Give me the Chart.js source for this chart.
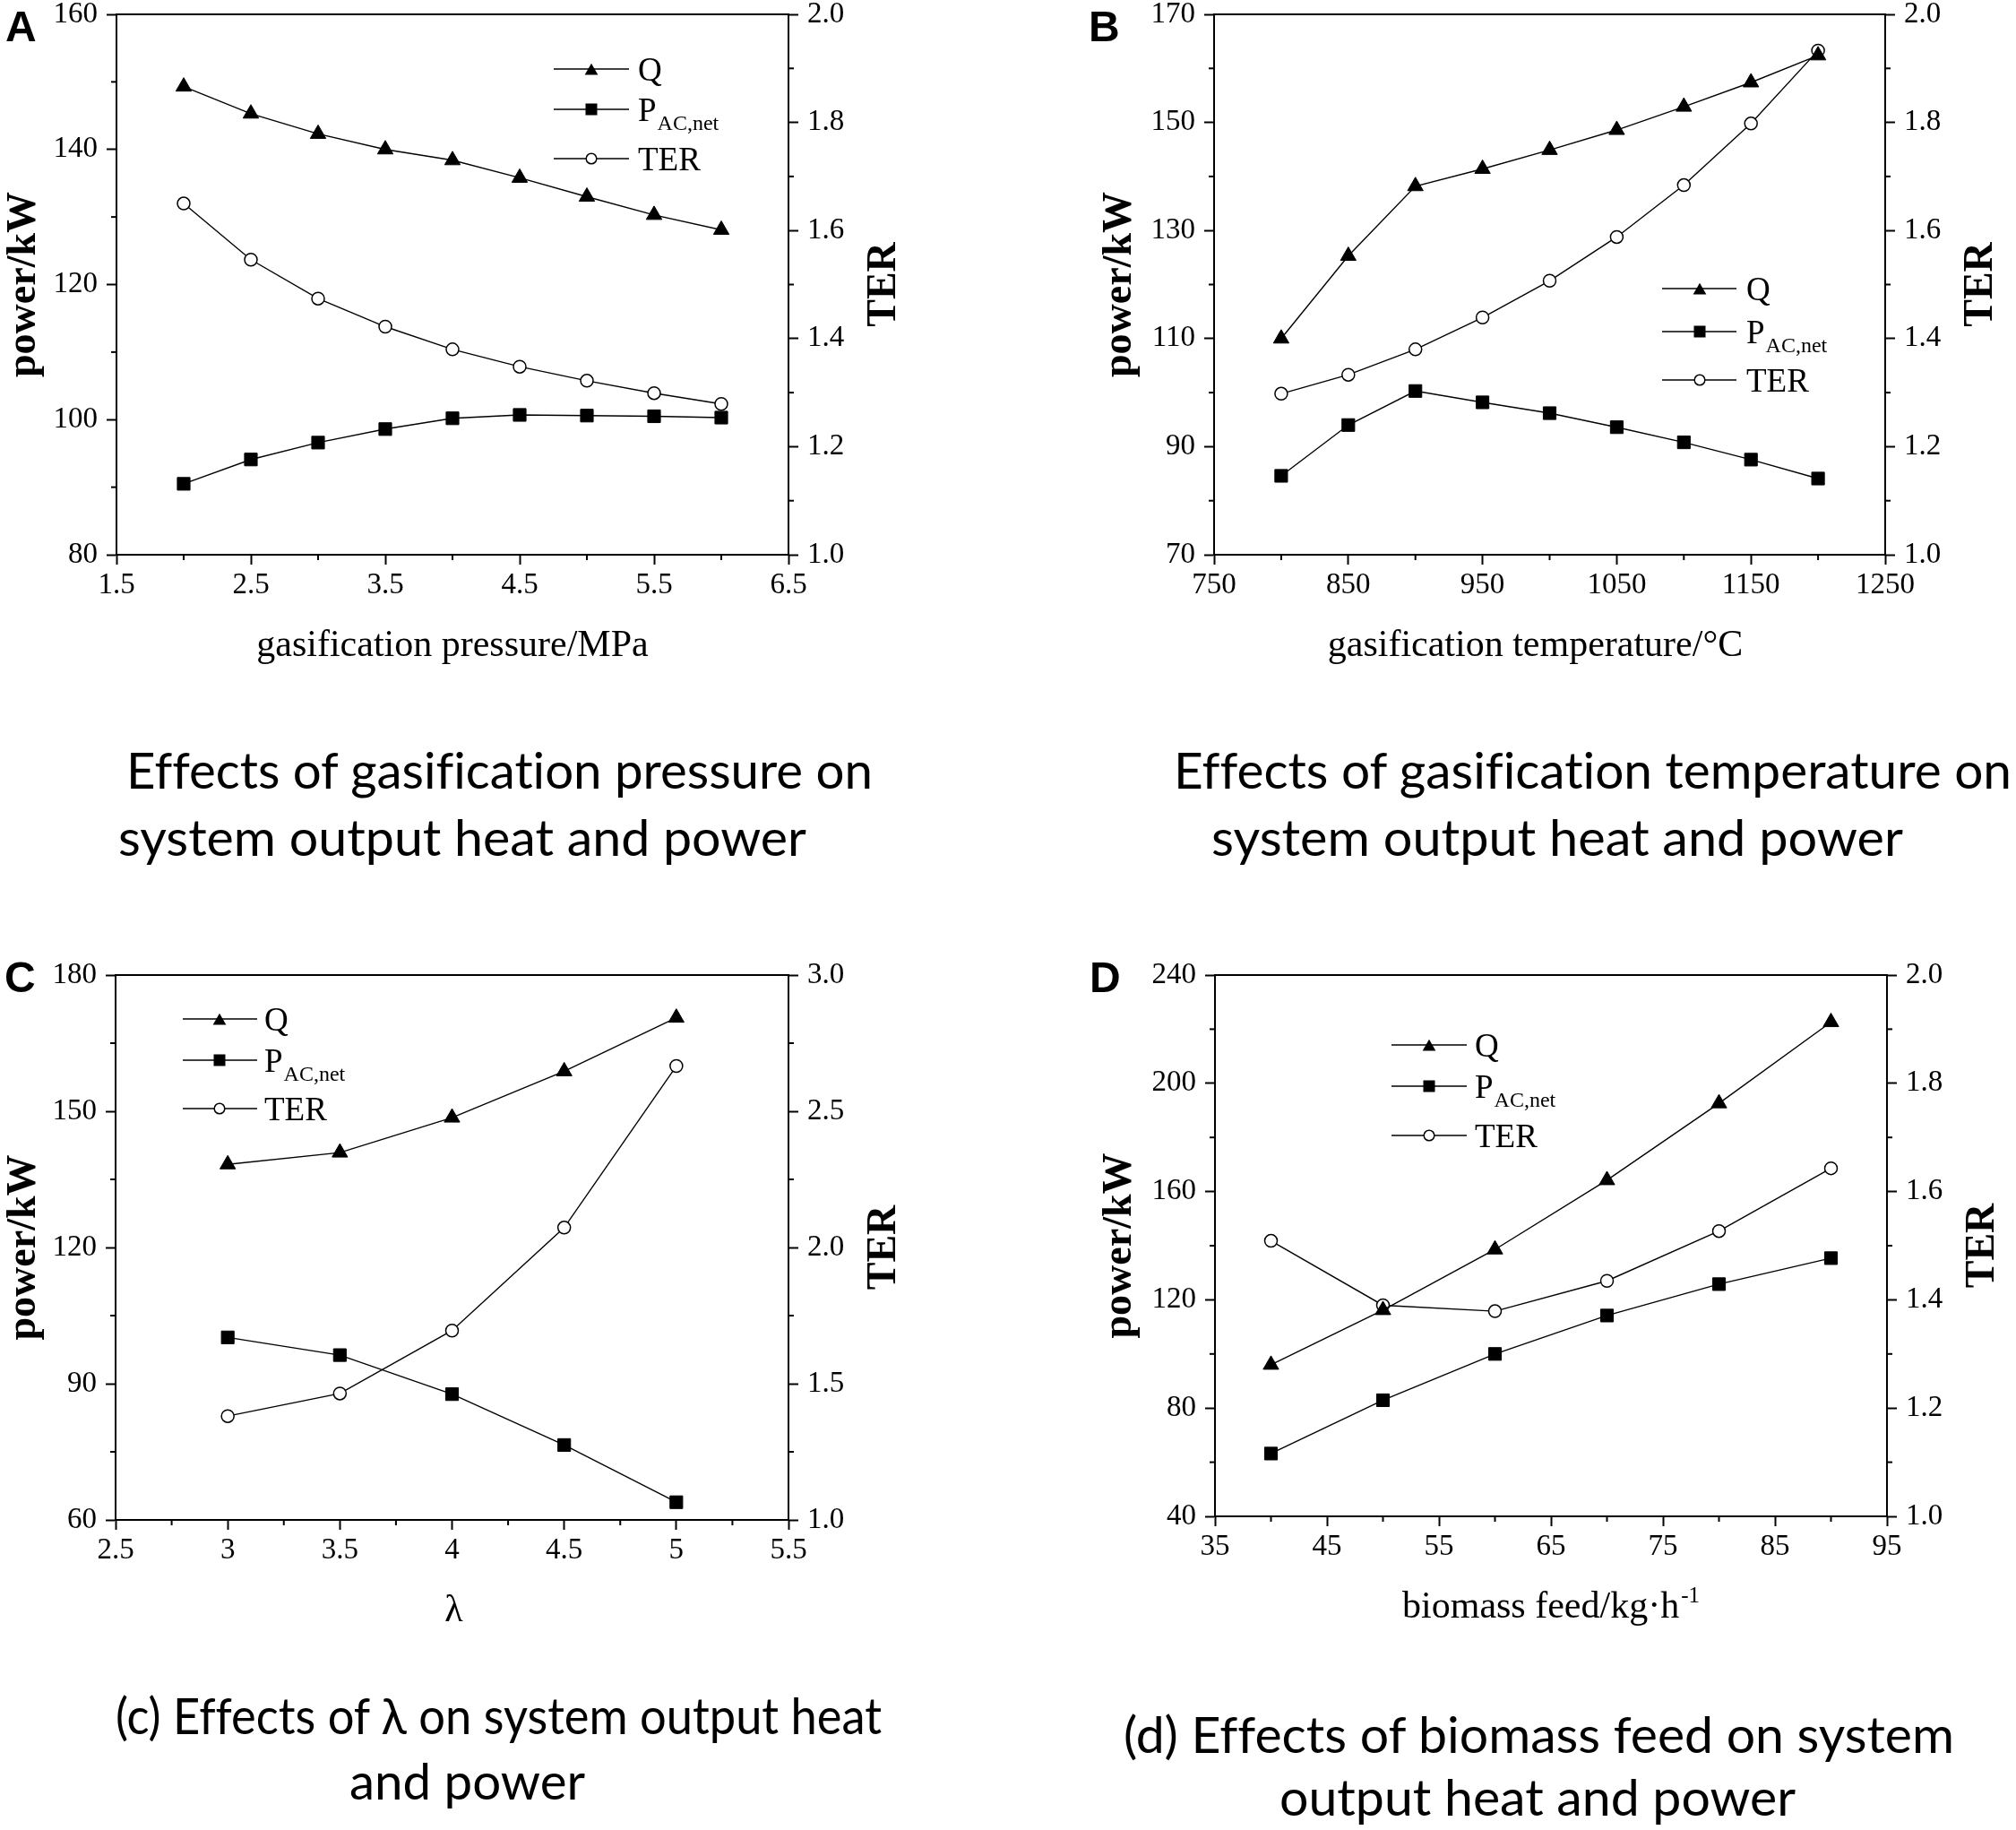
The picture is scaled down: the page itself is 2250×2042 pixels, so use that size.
<!DOCTYPE html>
<html>
<head>
<meta charset="utf-8">
<title>Effects on system output heat and power</title>
<script src="https://cdn.jsdelivr.net/npm/chart.js@4.4.1/dist/chart.umd.min.js"></script>
<style>
  html, body { margin:0; padding:0; background:#fff; }
  body { width:2250px; height:2042px; position:relative; overflow:hidden; }
  .panel { position:absolute; }
  .panel canvas { display:block; }
  svg.overlay { position:absolute; left:0; top:0; pointer-events:none; }
  .cap { font-variant-ligatures: none; }
</style>
</head>
<body>
<div class="panel" style="left:0px;top:0px;width:1125px;height:800px"><canvas id="cA" width="1125" height="800"></canvas></div>
<div class="panel" style="left:1125px;top:0px;width:1125px;height:800px"><canvas id="cB" width="1125" height="800"></canvas></div>
<div class="panel" style="left:0px;top:1060px;width:1125px;height:800px"><canvas id="cC" width="1125" height="800"></canvas></div>
<div class="panel" style="left:1125px;top:1060px;width:1125px;height:800px"><canvas id="cD" width="1125" height="800"></canvas></div>

<svg class="overlay" width="2250" height="2042" xmlns="http://www.w3.org/2000/svg">
  <g font-family="'Liberation Sans', Arial, sans-serif" font-weight="bold" font-size="48" fill="#000">
    <text x="6" y="46">A</text>
    <text x="1215" y="46">B</text>
    <text x="5" y="1107">C</text>
    <text x="1216" y="1107">D</text>
  </g>
  <g class="cap" font-family="Lato, 'Open Sans', sans-serif" font-size="56" fill="#000">
    <text x="141" y="880" textLength="833" lengthAdjust="spacingAndGlyphs">Effects of gasification pressure on</text>
    <text x="132" y="955" textLength="768" lengthAdjust="spacingAndGlyphs">system output heat and power</text>
    <text x="1310" y="880" textLength="935" lengthAdjust="spacingAndGlyphs">Effects of gasification temperature on</text>
    <text x="1352" y="955" textLength="772" lengthAdjust="spacingAndGlyphs">system output heat and power</text>
    <text x="129" y="1935" textLength="855" lengthAdjust="spacingAndGlyphs">(c) Effects of λ on system output heat</text>
    <text x="390" y="2008" textLength="263" lengthAdjust="spacingAndGlyphs">and power</text>
    <text x="1254" y="1956" textLength="927" lengthAdjust="spacingAndGlyphs">(d) Effects of biomass feed on system</text>
    <text x="1428" y="2026" textLength="576" lengthAdjust="spacingAndGlyphs">output heat and power</text>
  </g>
</svg>

<script>
// ---------------- DATA ----------------
// (A) gasification pressure / MPa
const pressureX   = [2, 2.5, 3, 3.5, 4, 4.5, 5, 5.5, 6];
const pressureQ   = [149.3, 145.3, 142.3, 140.0, 138.4, 135.8, 133.0, 130.3, 128.1];
const pressureP   = [90.5, 94.1, 96.6, 98.6, 100.2, 100.7, 100.6, 100.5, 100.3];
const pressureTER = [1.650, 1.546, 1.474, 1.422, 1.380, 1.348, 1.322, 1.299, 1.279];

// (B) gasification temperature / °C
const tempX   = [800, 850, 900, 950, 1000, 1050, 1100, 1150, 1200];
const tempQ   = [110.0, 125.3, 138.2, 141.4, 144.9, 148.6, 152.9, 157.4, 162.4];
const tempP   = [84.6, 94.0, 100.3, 98.2, 96.2, 93.6, 90.8, 87.6, 84.1];
const tempTER = [1.298, 1.333, 1.380, 1.439, 1.507, 1.588, 1.684, 1.798, 1.933];

// (C) lambda
const lambdaX   = [3, 3.5, 4, 4.5, 5];
const lambdaQ   = [138.3, 140.9, 148.6, 158.8, 170.6];
const lambdaP   = [100.2, 96.3, 87.7, 76.5, 63.9];
const lambdaTER = [1.381, 1.464, 1.695, 2.073, 2.666];

// (D) biomass feed / kg·h-1
const feedX   = [40, 50, 60, 70, 80, 90];
const feedQ   = [96.0, 116.2, 138.6, 164.2, 192.6, 222.6];
const feedP   = [63.2, 82.9, 100.0, 114.2, 125.8, 135.4];
const feedTER = [1.509, 1.390, 1.379, 1.435, 1.527, 1.643];

// tick labels
const pressureTicks = [1.5, 2.5, 3.5, 4.5, 5.5, 6.5];
const powerTicksA   = [80, 100, 120, 140, 160];
const terTicksA     = [1.0, 1.2, 1.4, 1.6, 1.8, 2.0];
const tempTicks     = [750, 850, 950, 1050, 1150, 1250];
const powerTicksB   = [70, 90, 110, 130, 150, 170];
const terTicksB     = [1.0, 1.2, 1.4, 1.6, 1.8, 2.0];
const lambdaTicks   = [2.5, 3, 3.5, 4, 4.5, 5, 5.5];
const powerTicksC   = [60, 90, 120, 150, 180];
const terTicksC     = [1.0, 1.5, 2.0, 2.5, 3.0];
const feedTicks     = [35, 45, 55, 65, 75, 85, 95];
const powerTicksD   = [40, 80, 120, 160, 200, 240];
const terTicksD     = [1.0, 1.2, 1.4, 1.6, 1.8, 2.0];

const seriesNames = ['Q', 'P', 'TER'];
const seriesSubs  = ['', 'AC,net', ''];

// ---------------- STYLE / LAYOUT ----------------
const SERIF = '"Liberation Serif", "Times New Roman", serif';
Chart.defaults.font.family = SERIF;
Chart.defaults.color = '#000';

const panels = [
  { id:'cA', W:1125, H:800, area:{left:130, right:880, top:16, bottom:619},
    x:pressureX, q:pressureQ, p:pressureP, ter:pressureTER,
    xTicks:pressureTicks, yTicks:powerTicksA, y1Ticks:terTicksA,
    xTitle:'gasification pressure/MPa', xSup:'', xdx:0, yTitlePad:0,
    legend:{x0:618, x1:702, xm:660, xt:712, rows:[77, 122, 177]} },
  { id:'cB', W:1125, H:800, area:{left:230, right:979, top:16, bottom:619},
    x:tempX, q:tempQ, p:tempP, ter:tempTER,
    xTicks:tempTicks, yTicks:powerTicksB, y1Ticks:terTicksB,
    xTitle:'gasification temperature/°C', xSup:'', xdx:-16, yTitlePad:98,
    legend:{x0:730, x1:813, xm:772, xt:824, rows:[322, 370, 424]} },
  { id:'cC', W:1125, H:800, area:{left:129, right:880, top:28, bottom:636},
    x:lambdaX, q:lambdaQ, p:lambdaP, ter:lambdaTER,
    xTicks:lambdaTicks, yTicks:powerTicksC, y1Ticks:terTicksC,
    xTitle:'λ', xSup:'', xdx:2, yTitlePad:0,
    legend:{x0:204, x1:287, xm:245, xt:295, rows:[77, 123, 177]} },
  { id:'cD', W:1125, H:800, area:{left:231, right:981, top:28, bottom:632},
    x:feedX, q:feedQ, p:feedP, ter:feedTER,
    xTicks:feedTicks, yTicks:powerTicksD, y1Ticks:terTicksD,
    xTitle:'biomass feed/kg·h', xSup:'-1', xdx:0, yTitlePad:98,
    legend:{x0:428, x1:512, xm:470, xt:521, rows:[106, 152, 207]} }
];

function drawMarker(ctx, style, x, y, r) {
  ctx.beginPath();
  if (style === 'triangle') {
    ctx.moveTo(x, y - r);
    ctx.lineTo(x + r * 0.866, y + r / 2);
    ctx.lineTo(x - r * 0.866, y + r / 2);
    ctx.closePath();
    ctx.fillStyle = '#000'; ctx.fill();
  } else if (style === 'rect') {
    const s = r * Math.SQRT1_2;
    ctx.rect(x - s, y - s, 2 * s, 2 * s);
    ctx.fillStyle = '#000'; ctx.fill();
  } else {
    ctx.arc(x, y, r, 0, Math.PI * 2);
    ctx.fillStyle = '#fff'; ctx.fill();
    ctx.lineWidth = 1.5; ctx.strokeStyle = '#000'; ctx.stroke();
  }
}

const extras = {
  id: 'extras',
  afterDraw(chart, args, o) {
    const ctx = chart.ctx, a = chart.chartArea;
    ctx.save();
    ctx.strokeStyle = '#000';
    ctx.lineWidth = 2;
    // top frame line
    ctx.beginPath();
    ctx.moveTo(a.left - 1, a.top);
    ctx.lineTo(a.right + 1, a.top);
    ctx.stroke();
    // minor ticks (midpoints between major ticks)
    const minor = 6;
    ['x', 'y', 'y1'].forEach(key => {
      const sc = chart.scales[key];
      const t = sc.ticks.map(k => k.value);
      for (let i = 0; i < t.length - 1; i++) {
        const px = sc.getPixelForValue((t[i] + t[i + 1]) / 2);
        ctx.beginPath();
        if (key === 'x') { ctx.moveTo(px, a.bottom); ctx.lineTo(px, a.bottom + minor); }
        else if (key === 'y') { ctx.moveTo(a.left, px); ctx.lineTo(a.left - minor, px); }
        else { ctx.moveTo(a.right, px); ctx.lineTo(a.right + minor, px); }
        ctx.stroke();
      }
    });
    // right axis title (reads bottom-to-top)
    ctx.fillStyle = '#000';
    ctx.font = 'bold 46px ' + SERIF;
    ctx.save();
    ctx.translate(a.right + 107, (a.top + a.bottom) / 2);
    ctx.rotate(-Math.PI / 2);
    ctx.textAlign = 'center';
    ctx.textBaseline = 'middle';
    ctx.fillText('TER', 0, 0);
    ctx.restore();
    // x axis title with optional superscript
    ctx.font = '42px ' + SERIF;
    const mainW = ctx.measureText(o.xTitle).width;
    let supW = 0;
    if (o.xSup) { ctx.font = '25px ' + SERIF; supW = ctx.measureText(o.xSup).width + 2; }
    const cx = (a.left + a.right) / 2 + o.xdx;
    const startX = cx - (mainW + supW) / 2;
    const base = a.bottom + 113;
    ctx.textAlign = 'left';
    ctx.textBaseline = 'alphabetic';
    ctx.font = '42px ' + SERIF;
    ctx.fillText(o.xTitle, startX, base);
    if (o.xSup) { ctx.font = '25px ' + SERIF; ctx.fillText(o.xSup, startX + mainW + 2, base - 17); }
    // legend
    const L = o.legend;
    const styles = ['triangle', 'rect', 'circle'];
    const radii = [8.5, 9.2, 5.8];
    L.rows.forEach((ry, i) => {
      ctx.strokeStyle = '#000';
      ctx.lineWidth = 1.4;
      ctx.beginPath();
      ctx.moveTo(L.x0, ry); ctx.lineTo(L.x1, ry);
      ctx.stroke();
      const my = styles[i] === 'triangle' ? ry + radii[i] / 4 : ry;
      drawMarker(ctx, styles[i], L.xm, my, radii[i]);
      ctx.fillStyle = '#000';
      ctx.font = '37px ' + SERIF;
      ctx.textAlign = 'left';
      ctx.textBaseline = 'alphabetic';
      ctx.fillText(seriesNames[i], L.xt, ry + 13);
      if (seriesSubs[i]) {
        const w = ctx.measureText(seriesNames[i]).width;
        ctx.font = '24px ' + SERIF;
        ctx.fillText(seriesSubs[i], L.xt + w + 1, ry + 23);
      }
    });
    ctx.restore();
  }
};

function dataset(label, xs, ys, axis, style, r, fill) {
  return {
    label,
    data: xs.map((x, i) => ({ x: x, y: ys[i] })),
    yAxisID: axis,
    borderColor: '#000',
    borderWidth: 1.4,
    pointStyle: style,
    pointRadius: r,
    pointHoverRadius: r,
    pointBackgroundColor: fill,
    pointBorderColor: '#000',
    pointBorderWidth: style === 'circle' ? 1.5 : 1,
    tension: 0,
    fill: false,
    clip: false
  };
}

function axis(ticksArr, cb, pad, fitFn) {
  return {
    type: 'linear',
    min: ticksArr[0],
    max: ticksArr[ticksArr.length - 1],
    afterBuildTicks: s => { s.ticks = ticksArr.map(v => ({ value: v })); },
    afterFit: s => { fitFn(s); s.paddingTop = 0; s.paddingBottom = 0; s.paddingLeft = 0; s.paddingRight = 0; },
    grid: { display: true, drawOnChartArea: false, drawTicks: true, tickLength: 11, tickWidth: 2, tickColor: '#000' },
    border: { display: true, color: '#000', width: 2 },
    ticks: { color: '#000', font: { family: SERIF, size: 33, lineHeight: 1 }, padding: pad,
             autoSkip: false, maxRotation: 0, minRotation: 0, callback: v => cb(v) }
  };
}

const fmtPlain = v => String(v);
const fmtOne = v => Number(v).toFixed(1);

panels.forEach(P => {
  const xAxis = axis(P.xTicks, fmtPlain, 7, s => { s.height = P.H - P.area.bottom; });
  xAxis.position = 'bottom';
  const yAxis = axis(P.yTicks, fmtPlain, 10, s => { s.width = P.area.left; });
  yAxis.position = 'left';
  yAxis.title = { display: true, text: 'power/kW', color: '#000',
                  font: { family: SERIF, size: 46, weight: 'bold', lineHeight: 1.2 },
                  padding: { top: P.yTitlePad, bottom: 0 } };
  const y1Axis = axis(P.y1Ticks, fmtOne, 10, s => { s.width = P.W - P.area.right; });
  y1Axis.position = 'right';

  new Chart(document.getElementById(P.id), {
    type: 'line',
    data: {
      datasets: [
        dataset('Q', P.x, P.q, 'y', 'triangle', 10, '#000'),
        dataset('PAC,net', P.x, P.p, 'y', 'rect', 10, '#000'),
        dataset('TER', P.x, P.ter, 'y1', 'circle', 7, '#fff')
      ]
    },
    options: {
      responsive: false,
      animation: false,
      events: [],
      layout: { autoPadding: false, padding: { top: P.area.top, left: 0, right: 0, bottom: 0 } },
      plugins: {
        legend: { display: false },
        tooltip: { enabled: false },
        extras: { legend: P.legend, xTitle: P.xTitle, xSup: P.xSup, xdx: P.xdx }
      },
      scales: { x: xAxis, y: yAxis, y1: y1Axis }
    },
    plugins: [extras]
  });
});
</script>
</body>
</html>
